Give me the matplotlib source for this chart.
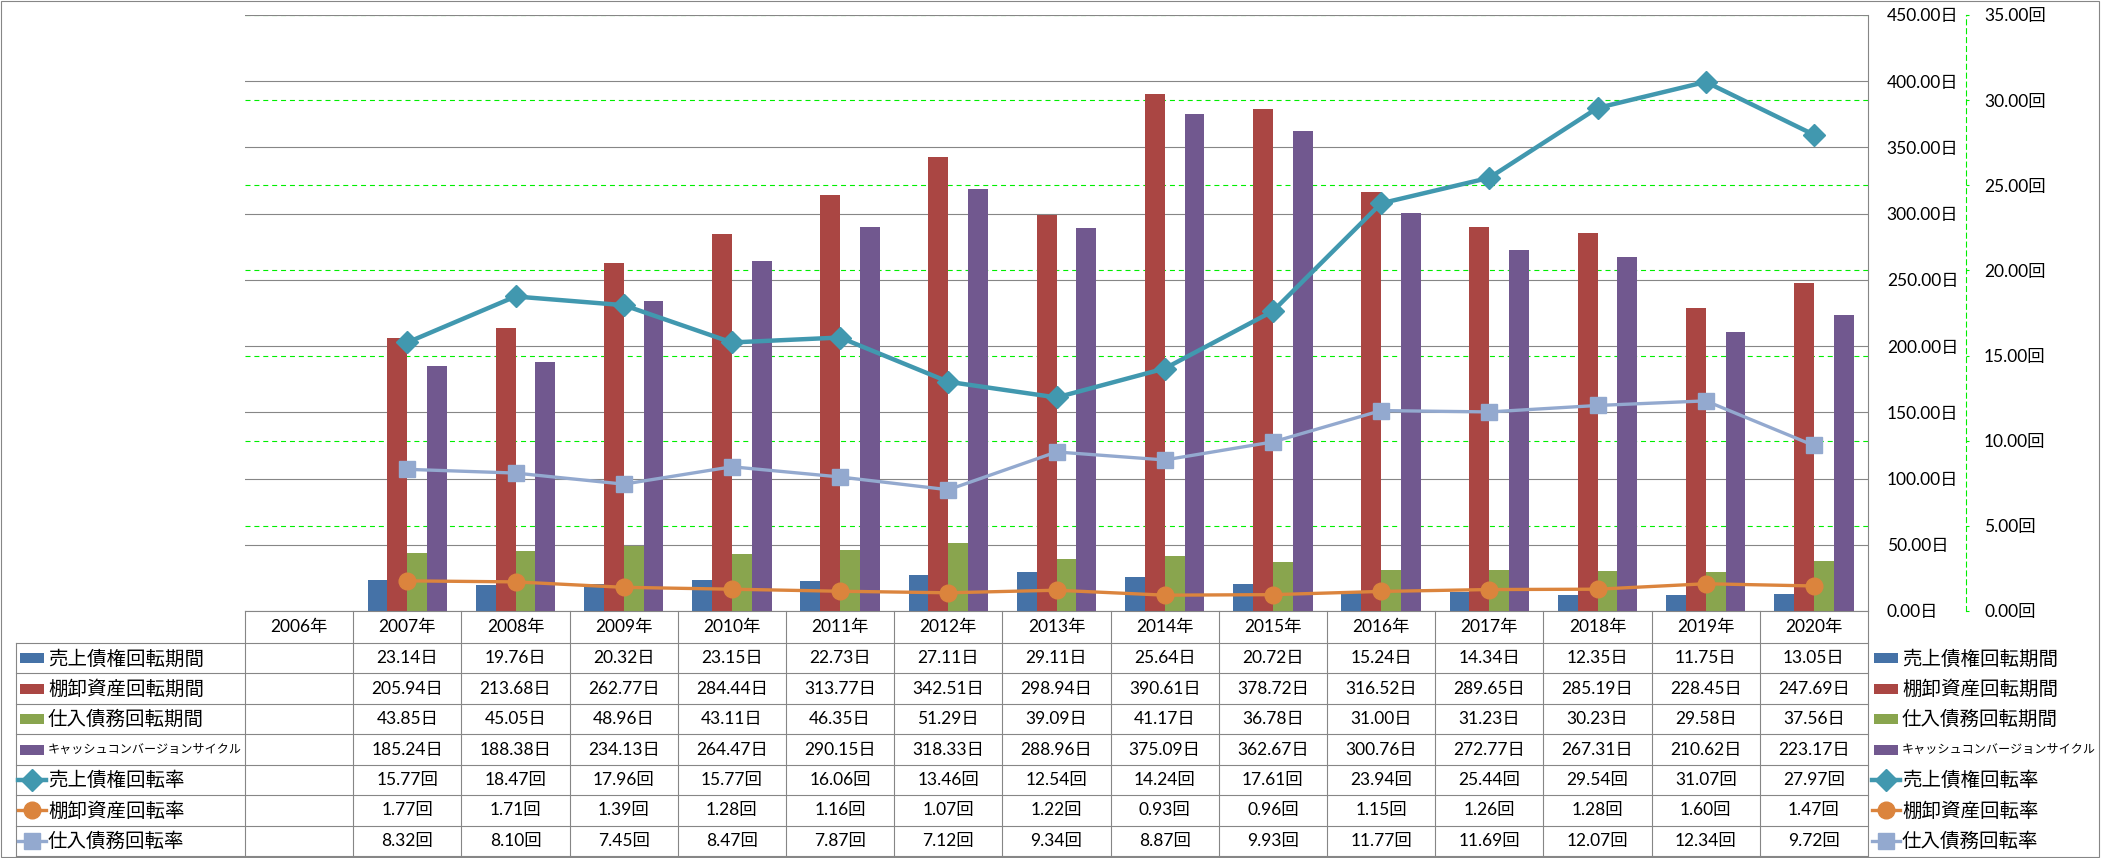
import numpy as np
import matplotlib
matplotlib.use('Agg')
import matplotlib.pyplot as plt
from matplotlib import transforms
from matplotlib.lines import Line2D
from matplotlib.patches import Rectangle
from matplotlib.ticker import FuncFormatter

plt.rcParams['font.family'] = ['Lato', 'Noto Sans CJK JP', 'DejaVu Sans']

# ---------------- data ----------------
years = ['2006年', '2007年', '2008年', '2009年', '2010年', '2011年', '2012年', '2013年',
         '2014年', '2015年', '2016年', '2017年', '2018年', '2019年', '2020年']
nan = np.nan
ar_days = [nan, 23.14, 19.76, 20.32, 23.15, 22.73, 27.11, 29.11, 25.64, 20.72, 15.24, 14.34, 12.35, 11.75, 13.05]
inv_days = [nan, 205.94, 213.68, 262.77, 284.44, 313.77, 342.51, 298.94, 390.61, 378.72, 316.52, 289.65, 285.19, 228.45, 247.69]
ap_days = [nan, 43.85, 45.05, 48.96, 43.11, 46.35, 51.29, 39.09, 41.17, 36.78, 31.00, 31.23, 30.23, 29.58, 37.56]
ccc_days = [nan, 185.24, 188.38, 234.13, 264.47, 290.15, 318.33, 288.96, 375.09, 362.67, 300.76, 272.77, 267.31, 210.62, 223.17]
ar_turn = [nan, 15.77, 18.47, 17.96, 15.77, 16.06, 13.46, 12.54, 14.24, 17.61, 23.94, 25.44, 29.54, 31.07, 27.97]
inv_turn = [nan, 1.77, 1.71, 1.39, 1.28, 1.16, 1.07, 1.22, 0.93, 0.96, 1.15, 1.26, 1.28, 1.60, 1.47]
ap_turn = [nan, 8.32, 8.10, 7.45, 8.47, 7.87, 7.12, 9.34, 8.87, 9.93, 11.77, 11.69, 12.07, 12.34, 9.72]

bar_names = ['売上債権回転期間', '棚卸資産回転期間', '仕入債務回転期間', 'キャッシュコンバージョンサイクル']
line_names = ['売上債権回転率', '棚卸資産回転率', '仕入債務回転率']
day_ticks = [0, 50, 100, 150, 200, 250, 300, 350, 400, 450]
turn_ticks = [0, 5, 10, 15, 20, 25, 30, 35]

# ---------------- styles ----------------
bar_series = [ar_days, inv_days, ap_days, ccc_days]
bar_colors = ['#4572A7', '#AA4643', '#89A54E', '#71588F']
line_series = [ar_turn, inv_turn, ap_turn]
line_colors = ['#4198AF', '#DB843D', '#93A9CF']
line_markers = ['D', 'o', 's']
line_ms = [11.5, 12, 11.5]
line_lw = [3.2, 2.4, 2.4]
GRAY = '#868686'
GREEN = '#00ee00'

W, H = 2101, 858
fig = plt.figure(figsize=(W / 100, H / 100), dpi=100)


def fx(px):
    return px / W


def fy(py):
    return 1 - py / H


L, R, T, B = 245, 1868, 15, 611
rect = [fx(L), fy(B), (R - L) / W, (B - T) / H]
x = np.arange(len(years))
FS = 12.5

# green secondary grid (behind bars)
axg = fig.add_axes(rect, zorder=0)
axg.set_xlim(-0.5, len(years) - 0.5)
axg.set_ylim(0, 35)
axg.set_yticks(turn_ticks[1:])
axg.set_xticks([])
axg.tick_params(axis='y', length=0, labelleft=False, labelright=False)
axg.grid(axis='y', color=GREEN, lw=0.8, linestyle=(0, (4.5, 3.5)))
for s in axg.spines.values():
    s.set_visible(False)

# primary axes: bars
ax = fig.add_axes(rect, zorder=1)
ax.patch.set_visible(False)
ax.set_xlim(-0.5, len(years) - 0.5)
ax.set_ylim(0, 450)
ax.set_xticks([])
ax.set_yticks(day_ticks)
ax.yaxis.tick_right()
ax.yaxis.set_major_formatter(FuncFormatter(lambda v, p: f'{v:.2f}日'))
ax.tick_params(axis='y', length=0, pad=13.5, labelsize=FS)
ax.grid(axis='y', color=GRAY, lw=0.8)
ax.set_axisbelow(True)
for k in ['top', 'left', 'bottom']:
    ax.spines[k].set_visible(False)
ax.spines['right'].set_color(GRAY)
ax.spines['right'].set_linewidth(0.8)

w = 0.183
for i, (vals, c) in enumerate(zip(bar_series, bar_colors)):
    ax.bar(x + (i - 1.5) * w, vals, w, color=c, zorder=2)

# secondary axes: lines
axl = fig.add_axes(rect, zorder=2)
axl.patch.set_visible(False)
axl.set_xlim(-0.5, len(years) - 0.5)
axl.set_ylim(0, 35)
axl.set_xticks([])
axl.set_yticks(turn_ticks)
axl.yaxis.tick_right()
axl.yaxis.set_major_formatter(FuncFormatter(lambda v, p: f'{v:.2f}回'))
axl.tick_params(axis='y', length=2.5, width=0.8, color=GREEN, pad=10.5, labelsize=FS, direction='out')
for k in ['top', 'left', 'bottom']:
    axl.spines[k].set_visible(False)
axl.spines['right'].set_position(('outward', 98 * 0.72))
axl.spines['right'].set_color(GREEN)
axl.spines['right'].set_linestyle((0, (4.5, 3.5)))
axl.spines['right'].set_linewidth(0.8)

for vals, c, m, ms, lw in zip(line_series, line_colors, line_markers, line_ms, line_lw):
    axl.plot(x, vals, color=c, lw=lw, marker=m, ms=ms, mec=c, mfc=c, solid_capstyle='round')

# ---------------- data table ----------------
trans = transforms.blended_transform_factory(ax.transData, fig.transFigure)
row_top = 643
row_bot = 856
nrows = 7
rh = (row_bot - row_top) / nrows
row_edges = [row_top + k * rh for k in range(nrows + 1)]
row_centers = [row_top + (k + 0.5) * rh for k in range(nrows)]

lk = dict(color=GRAY, lw=0.8)
# horizontal lines
fig.add_artist(Line2D([fx(L), fx(R)], [fy(B), fy(B)], transform=fig.transFigure, **lk))
for yy in row_edges:
    fig.add_artist(Line2D([fx(16), fx(R)], [fy(yy), fy(yy)], transform=fig.transFigure, **lk))
# vertical lines
for b in np.arange(len(years) + 1) - 0.5:
    fig.add_artist(Line2D([b, b], [fy(B), fy(row_bot)], transform=trans, **lk))
fig.add_artist(Line2D([fx(16), fx(16)], [fy(row_top), fy(row_bot)], transform=fig.transFigure, **lk))

# header
for xi, yr in zip(x, years):
    ax.text(xi, fy((B + row_top) / 2), yr, transform=trans, ha='center', va='center',
            fontsize=FS, clip_on=False)

# cell values
all_series = bar_series + line_series
units = ['日'] * 4 + ['回'] * 3
for r, (vals, u) in enumerate(zip(all_series, units)):
    for xi, v in zip(x, vals):
        if np.isnan(v):
            continue
        ax.text(xi, fy(row_centers[r]), f'{v:.2f}{u}', transform=trans, ha='center',
                va='center', fontsize=FS, clip_on=False)

# legend keys (left in table and right side)
names = bar_names + line_names


def draw_key(r, x0, x1, text_x):
    yc = row_centers[r]
    if r < 4:
        fig.add_artist(Rectangle((fx(x0 + 2), fy(yc + 5)), (x1 - x0 - 4) / W, 10 / H,
                                 transform=fig.transFigure, color=bar_colors[r], lw=0))
    else:
        i = r - 4
        fig.add_artist(Line2D([fx(x0), fx((x0 + x1) / 2), fx(x1)], [fy(yc)] * 3,
                              transform=fig.transFigure, color=line_colors[i], lw=line_lw[i],
                              marker=line_markers[i], ms=line_ms[i], markevery=[1],
                              mfc=line_colors[i], mec=line_colors[i]))
    fs = 8.7 if r == 3 else 14
    fig.text(fx(text_x), fy(yc), names[r], ha='left', va='center', fontsize=fs)


for r in range(nrows):
    draw_key(r, 18, 46, 48)
    draw_key(r, 1872, 1900, 1902)

# outer border
fig.add_artist(Rectangle((fx(1), fy(857)), (2098) / W, 856 / H, transform=fig.transFigure,
                         fill=False, edgecolor=GRAY, lw=0.8))

fig.savefig('out.png', dpi=100)
